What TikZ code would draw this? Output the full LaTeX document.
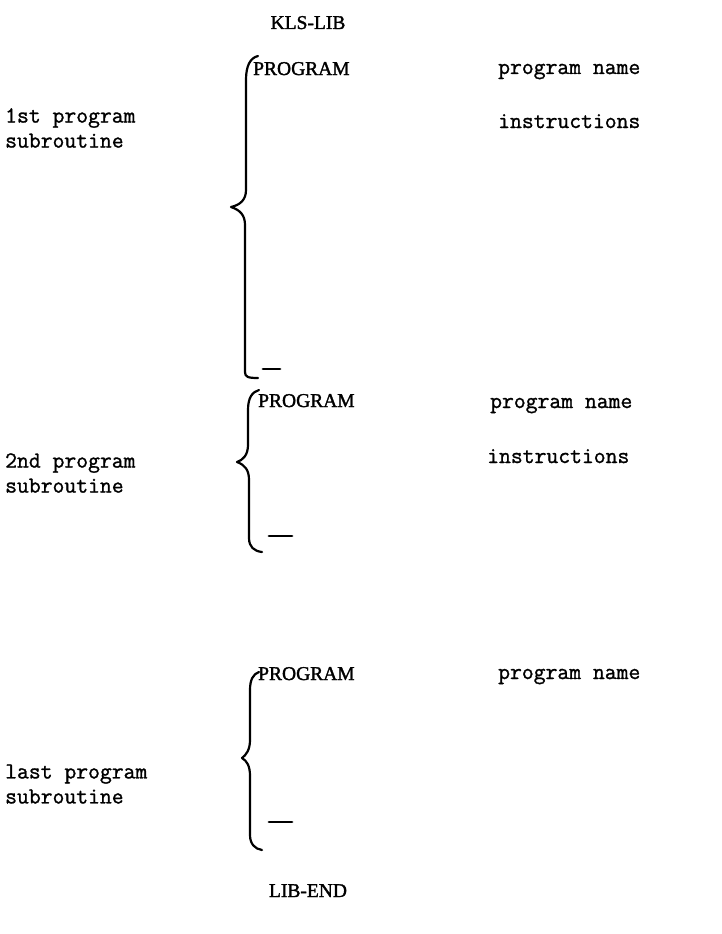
\documentclass[tikz,border=0pt]{standalone}
\usepackage{fontspec}
\newfontfamily\typew[FakeBold=1.2]{Latin Modern Mono}
\newfontfamily\capsf[FakeBold=1.6]{Liberation Serif}
\begin{document}
\begin{tikzpicture}[x=1pt,y=-1pt,
  lbl/.style={font=\typew\fontsize{23}{25}\selectfont, anchor=base west, inner sep=0pt},
  captext/.style={font=\capsf\fontsize{19.5}{23}\selectfont, anchor=base west, inner sep=0pt},
  brace/.style={line width=2.2pt, line cap=round, line join=round},
  tick/.style={line width=2.8pt, line cap=round}]
\useasboundingbox (0,0) rectangle (721,934);

% header and trailer
\node[captext, anchor=base] (head) at (308,29) {KLS-LIB};
\node[captext, anchor=base] (tail) at (308,897) {LIB-END};

% first subroutine
\node[captext] (p1) at (253,75) {PROGRAM};
\node[lbl] (n1) at (498,74) {program name};
\node[lbl] (i1) at (498,128) {instructions};
\node[lbl, align=left, anchor=west] (s1) at (5,128) {1st program\\subroutine};
\draw[brace] (258,56) .. controls (250,58) and (246,66) .. (246,80) -- (246,190)
  .. controls (246,200) and (240,205) .. (231,207)
  .. controls (240,210) and (245,215) .. (245,225) -- (245,372)
  .. controls (245,377) and (248,378) .. (258,378);
\coordinate (d1a) at (263,369); \coordinate (d1b) at (280,369);
\draw[tick] (d1a) -- (d1b);

% second subroutine
\node[captext] (p2) at (258,407) {PROGRAM};
\node[lbl] (n2) at (490,408) {program name};
\node[lbl] (i2) at (487,463) {instructions};
\node[lbl, align=left, anchor=west] (s2) at (5,473) {2nd program\\subroutine};
\draw[brace] (259,390) .. controls (252,392) and (248,398) .. (248,410) -- (248,445)
  .. controls (248,455) and (243,460) .. (237,462)
  .. controls (245,465) and (249,470) .. (249,480) -- (249,538)
  .. controls (249,547) and (254,551) .. (262,552);
\coordinate (d2a) at (269,536); \coordinate (d2b) at (292,536);
\draw[tick] (d2a) -- (d2b);

% last subroutine
\node[captext] (p3) at (258,680) {PROGRAM};
\node[lbl] (n3) at (498,679) {program name};
\node[lbl, align=left, anchor=west] (s3) at (5,784) {last program\\subroutine};
\draw[brace] (259,672) .. controls (253,674) and (250,680) .. (250,690) -- (250,740)
  .. controls (250,750) and (246,755) .. (242,758)
  .. controls (247,761) and (250,766) .. (250,776) -- (250,835)
  .. controls (250,844) and (255,849) .. (262,850);
\coordinate (d3a) at (269,822); \coordinate (d3b) at (292,822);
\draw[tick] (d3a) -- (d3b);
\end{tikzpicture}
\end{document}
